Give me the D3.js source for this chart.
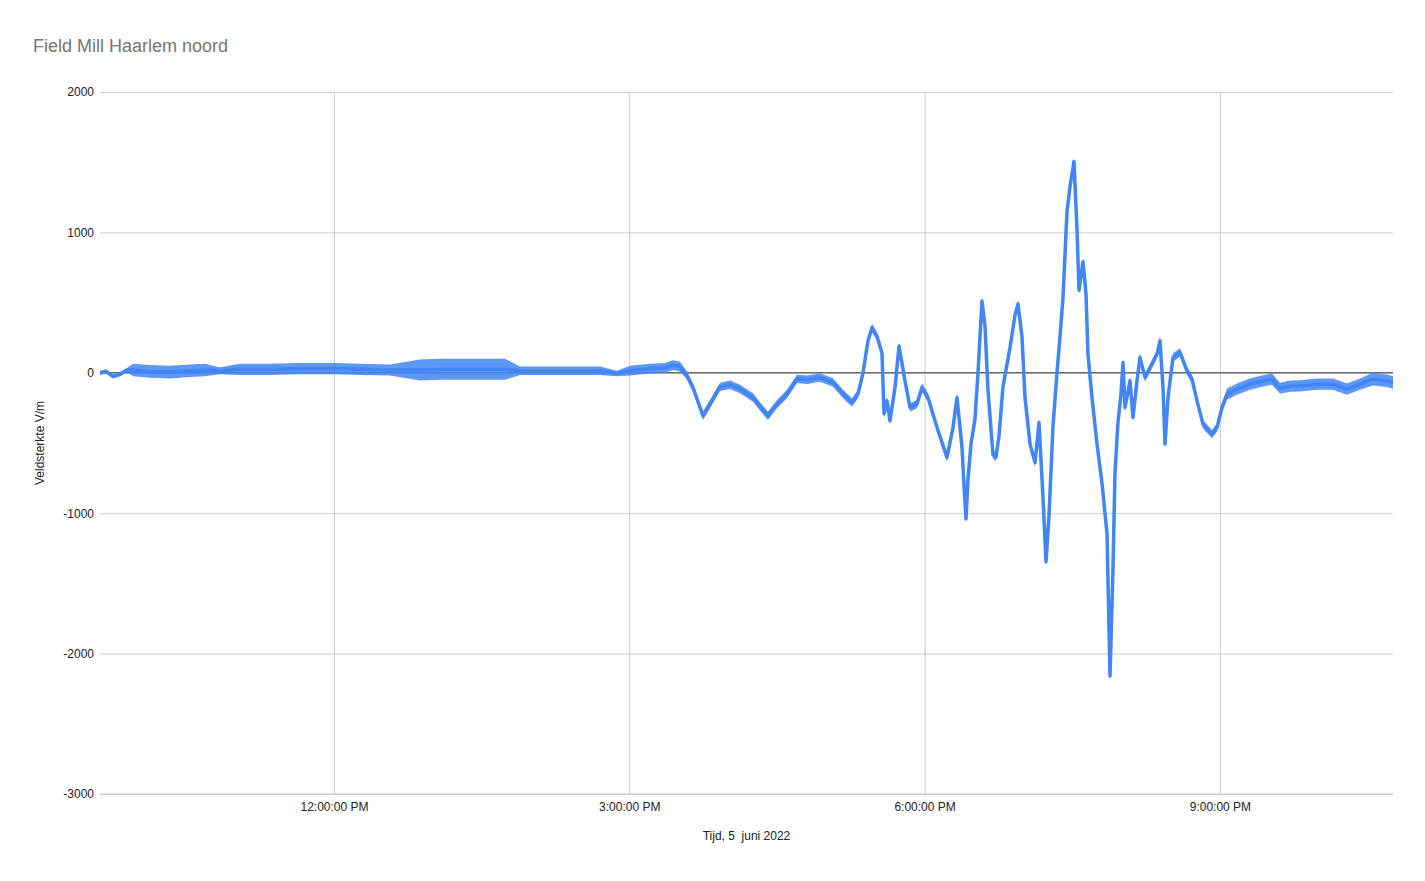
<!DOCTYPE html>
<html>
<head>
<meta charset="utf-8">
<script src="https://cdn.jsdelivr.net/npm/d3@7"></script>
<style>
  body { margin: 0; background: #fff; }
  text { font-family: "Liberation Sans", Arial, sans-serif; }
</style>
</head>
<body>
<div id="main"></div>
<script>
// --- data (time of day, field strength V/m, noise half-band)
const times = [
  '09:37:22','09:41:01','09:45:17','09:49:34','09:53:49','09:57:29','10:07:50','10:20:02','10:32:13','10:41:22',
  '10:50:31','11:02:42','11:20:59','11:39:17','12:00:00','12:15:51','12:34:08','12:52:25','13:04:37','13:22:54',
  '13:44:14','13:53:23','14:17:46','14:42:08','14:52:30','15:00:26','15:12:37','15:21:46','15:26:38','15:30:54',
  '15:35:10','15:38:50','15:43:06','15:44:55','15:49:11','15:55:17','16:01:23','16:07:29','16:15:24','16:20:53',
  '16:24:32','16:30:02','16:36:08','16:42:13','16:48:19','16:56:14','17:04:10','17:10:16','17:15:45','17:19:24',
  '17:22:27','17:25:30','17:27:56','17:30:59','17:34:02','17:35:15','17:37:05','17:38:55','17:41:58','17:44:24',
  '17:48:03','17:51:06','17:55:22','17:58:25','18:02:04','18:07:34','18:13:39','18:17:19','18:19:45','18:22:48',
  '18:24:01','18:25:14','18:26:27','18:28:17','18:30:43','18:32:33','18:34:59','18:36:49','18:38:39','18:41:41',
  '18:43:31','18:45:21','18:47:47','18:52:04','18:55:06','18:56:56','18:59:22','19:01:12','19:04:15','19:07:18',
  '19:09:44','19:12:10','19:14:00','19:15:50','19:18:16','19:20:42','19:22:32','19:24:22','19:26:48','19:28:38',
  '19:31:04','19:32:54','19:34:07','19:36:34','19:38:23','19:39:36','19:42:02','19:45:05','19:48:08','19:51:11',
  '19:53:01','19:54:50','19:56:04','19:57:53','19:59:43','20:00:56','20:02:09','20:05:12','20:07:02','20:09:28',
  '20:11:18','20:14:21','20:18:37','20:21:40','20:23:29','20:25:19','20:26:33','20:28:22','20:31:25','20:35:41',
  '20:39:57','20:43:00','20:46:03','20:49:42','20:55:11','20:58:14','21:01:17','21:04:20','21:10:25','21:18:21',
  '21:26:16','21:31:46','21:36:38','21:42:44','21:48:50','21:59:11','22:08:56','22:17:28','22:25:24','22:33:19',
  '22:41:52','22:45:31'
];
const values = [
  0, 10, -25, -10, 20, 20, 10, 5, 15, 20,
  15, 25, 25, 30, 30, 25, 20, 20, 25, 25,
  25, 15, 15, 15, -5, 15, 30, 35, 55, 45,
  -20, -105, -247, -306, -223, -100, -85, -115, -176, -257,
  -306, -223, -151, -43, -50, -33, -69, -151, -211, -151,
  0, 228, 320, 260, 140, -292, -200, -342, -105, 190,
  -57, -247, -223, -105, -176, -390, -603, -390, -176, -532,
  -800, -1040, -760, -506, -330, 0, 512, 333, -125, -583,
  -600, -450, -100, 180, 410, 490, 257, -176, -506, -640,
  -354, -888, -1346, -1015, -379, 0, 257, 537, 1148, 1326,
  1504, 1020, 588, 791, 562, 130, -176, -506, -786, -1143,
  -2160, -1397, -710, -354, -150, 74, -247, -57, -318, -57,
  109, -33, 62, 133, 228, -105, -508, -176, 109, 145,
  14, -45, -200, -366, -437, -390, -247, -152, -116, -81,
  -57, -45, -110, -95, -93, -81, -81, -116, -81, -45,
  -57, -69
];
const spread = [
  15, 15, 15, 15, 15, 45, 45, 45, 45, 45,
  25, 40, 40, 40, 40, 40, 40, 75, 75, 75,
  75, 30, 30, 30, 20, 35, 35, 35, 35, 35,
  30, 30, 30, 30, 30, 30, 30, 30, 30, 30,
  30, 30, 30, 30, 30, 30, 30, 30, 30, 30,
  30, 30, 30, 30, 30, 30, 30, 30, 30, 30,
  30, 30, 30, 30, 30, 30, 30, 30, 30, 30,
  30, 30, 30, 30, 30, 30, 30, 30, 30, 30,
  30, 30, 30, 30, 30, 30, 30, 30, 30, 30,
  30, 30, 30, 30, 30, 30, 30, 30, 30, 30,
  30, 30, 30, 30, 30, 30, 30, 30, 30, 30,
  30, 30, 30, 30, 30, 30, 30, 30, 30, 30,
  30, 30, 30, 30, 30, 30, 30, 30, 30, 30,
  30, 30, 30, 30, 30, 30, 30, 40, 40, 40,
  40, 40, 40, 40, 40, 40, 40, 40, 40, 45,
  45, 45
];
const yTicks = [-3000, -2000, -1000, 0, 1000, 2000];

const title = 'Field Mill Haarlem noord';
const xTitle = 'Tijd, 5  juni 2022';
const yTitle = 'Veldsterkte V/m';

// --- layout
const svgWidth = 1425, svgHeight = 881;
const margin = { top: 92, right: 32, bottom: 87, left: 100 };
const chartWidth = svgWidth - margin.left - margin.right;
const chartHeight = svgHeight - margin.top - margin.bottom;

const parseTime = d3.timeParse('%H:%M:%S');
const dataset = times.map((t, i) => ({ t: parseTime(t), v: values[i], s: spread[i] }));

const svg = d3.select('#main')
  .append('svg')
  .attr('width', svgWidth)
  .attr('height', svgHeight);

const xScale = d3.scaleTime()
  .domain(d3.extent(dataset, d => d.t))
  .range([0, chartWidth]);

const yScale = d3.scaleLinear()
  .domain([-3000, 2000])
  .range([chartHeight, 0]);

const g = svg.append('g')
  .attr('transform', `translate(${margin.left}, ${margin.top})`);

// horizontal grid + y labels
const yAxis = g.append('g')
  .call(d3.axisLeft(yScale).tickValues(yTicks).tickSize(-chartWidth).tickPadding(6).tickFormat(d => String(d)));
yAxis.select('.domain').remove();
yAxis.selectAll('line').attr('stroke', '#cccccc');
yAxis.selectAll('text').attr('font-size', 12).attr('fill', '#222');

// vertical grid + x labels
const xAxis = g.append('g')
  .attr('transform', `translate(0, ${chartHeight})`)
  .call(d3.axisBottom(xScale).ticks(d3.timeHour.every(3)).tickSize(-chartHeight).tickPadding(8)
    .tickFormat(d3.timeFormat('%-I:%M:%S %p')));
xAxis.select('.domain').remove();
xAxis.selectAll('line').attr('stroke', '#cccccc');
xAxis.selectAll('text').attr('font-size', 12).attr('fill', '#222');

// bottom border line
g.append('line')
  .attr('x1', 0).attr('x2', chartWidth)
  .attr('y1', chartHeight).attr('y2', chartHeight)
  .attr('stroke', '#cccccc');

// zero baseline
g.append('line')
  .attr('x1', 0).attr('x2', chartWidth)
  .attr('y1', yScale(0)).attr('y2', yScale(0))
  .attr('stroke', '#333333');

// noise band
g.append('path')
  .datum(dataset)
  .attr('fill', '#4285f4')
  .attr('opacity', 0.85)
  .attr('d', d3.area()
    .x(d => xScale(d.t))
    .y0(d => yScale(d.v - d.s))
    .y1(d => yScale(d.v + d.s)));

// line
g.append('path')
  .datum(dataset)
  .attr('fill', 'none')
  .attr('stroke', '#4285f4')
  .attr('stroke-width', 3.5)
  .attr('stroke-linejoin', 'round')
  .attr('d', d3.line()
    .x(d => xScale(d.t))
    .y(d => yScale(d.v)));

// titles
svg.append('text')
  .attr('x', 33).attr('y', 52)
  .attr('font-size', 18)
  .attr('fill', '#757575')
  .text(title);

svg.append('text')
  .attr('x', margin.left + chartWidth / 2).attr('y', 840)
  .attr('text-anchor', 'middle')
  .attr('font-size', 12)
  .attr('fill', '#222')
  .style('white-space', 'pre')
  .text(xTitle);

svg.append('text')
  .attr('transform', `translate(44, ${margin.top + chartHeight / 2}) rotate(-90)`)
  .attr('text-anchor', 'middle')
  .attr('font-size', 12)
  .attr('fill', '#222')
  .text(yTitle);
</script>
</body>
</html>
